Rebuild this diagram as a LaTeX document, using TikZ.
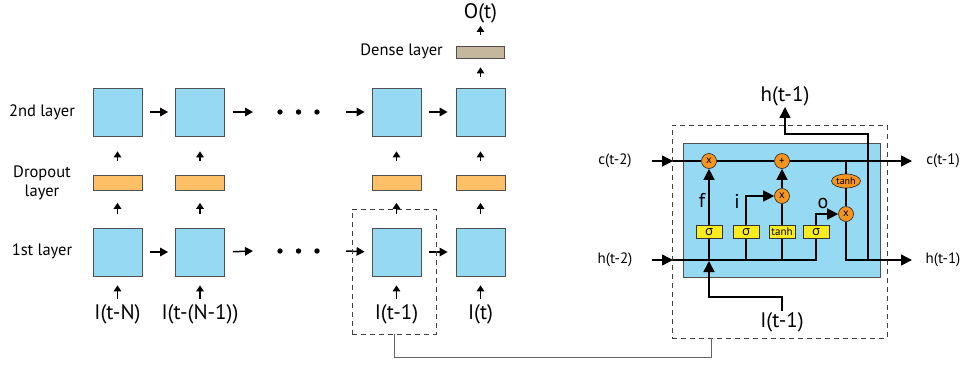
\documentclass[tikz,border=0pt]{standalone}
\usepackage{fontspec}
\setmainfont{PT Sans}
\newfontfamily\grk{Open Sans}
\usetikzlibrary{arrows.meta,shapes.geometric}
\definecolor{cellblue}{RGB}{149,217,243}
\definecolor{dropor}{RGB}{253,192,102}
\definecolor{densec}{RGB}{196,183,157}
\definecolor{gateyel}{RGB}{250,236,30}
\definecolor{opor}{RGB}{247,148,30}
\definecolor{edgegray}{RGB}{80,80,80}
\begin{document}
\begin{tikzpicture}[x=1pt,y=-1pt,
  cell/.style={draw=edgegray, fill=cellblue, line width=0.8pt, minimum width=49pt, minimum height=48pt, inner sep=0pt},
  drop/.style={draw=edgegray, fill=dropor, line width=0.8pt, minimum width=49pt, minimum height=15pt, inner sep=0pt},
  densebox/.style={draw=edgegray, fill=densec, line width=0.8pt, minimum width=48pt, minimum height=12pt, inner sep=0pt},
  lab/.style={font=\fontsize{16.5}{19}\selectfont, align=center, inner sep=0pt},
  inp/.style={font=\fontsize{21}{23}\selectfont, inner sep=1pt},
  sarr/.style={-{Triangle[length=6pt,width=7.5pt]}, line width=1.4pt},
  harr/.style={-{Triangle[length=8pt,width=8.5pt]}, line width=1.5pt},
  bigarr/.style={-{Triangle[length=11pt,width=11pt]}, line width=1.5pt},
  wire/.style={line width=1.5pt},
  opc/.style={circle, draw=black!80, fill=opor, line width=0.7pt, minimum size=15pt, inner sep=0pt, font=\fontsize{11}{12}\selectfont},
  gate/.style={draw=black!80, fill=gateyel, line width=0.7pt, minimum width=26pt, minimum height=13pt, inner sep=0pt},
  dbox/.style={draw=black!75, dashed, dash pattern=on 5pt off 4pt, line width=0.8pt, inner sep=0pt},
  small/.style={font=\fontsize{15}{17}\selectfont, inner sep=0pt},
  glab/.style={font=\fontsize{20}{22}\selectfont, inner sep=0pt}
]
\useasboundingbox (0,0) rectangle (965,365);

% ---------- left part ----------
\node[lab] (t2) at (42,112) {2nd layer};
\node[lab] (tdrop) at (42,183) {Dropout\\layer};
\node[lab] (t1) at (42,251) {1st layer};

\foreach \n/\x in {a/117.5,b/200,c/396.5,d/480.5}{
  \node[cell] (up\n) at (\x,112) {};
  \node[drop] (dr\n) at (\x,183) {};
  \node[cell] (lo\n) at (\x,252) {};
}
\node[inp] (ina) at (117.5,314) {I(t-N)};
\node[inp] (inb) at (200,314) {I(t-(N-1))};
\node[inp] (inc) at (396.5,314) {I(t-1)};
\node[inp] (ind) at (480.5,314) {I(t)};

\node[densebox] (dense) at (480.5,52) {};
\node[lab, anchor=east] (tdense) at (443,51) {Dense layer};
\node[inp] (out) at (480.5,13) {O(t)};

\foreach \n in {a,b,c,d}{
  \draw[sarr, shorten <=14pt, shorten >=15pt] (dr\n.north) -- (up\n.south);
  \draw[sarr, shorten <=14pt, shorten >=12pt] (lo\n.north) -- (dr\n.south);
  \draw[sarr, shorten <=4pt, shorten >=9pt] (in\n.north) -- (lo\n.south);
}
\draw[sarr, shorten <=11pt, shorten >=9pt] (upd.north) -- (dense.south);
\draw[sarr, shorten <=11pt, shorten >=2pt] (dense.north) -- (out.south);

% dots
\foreach \y/\r in {112/u,251/l}{
  \coordinate (dots\r1) at (280,\y);
  \coordinate (dots\r2) at (298.5,\y);
  \coordinate (dots\r3) at (317,\y);
  \fill (dots\r1) circle (2.7pt) (dots\r2) circle (2.7pt) (dots\r3) circle (2.7pt);
  \coordinate (pre\r) at (253,\y);
  \coordinate (post\r) at (346,\y);
}
\draw[harr, shorten <=8pt, shorten >=7pt] (upa.east) -- (upb.west);
\draw[harr, shorten <=8pt] (upb.east) -- (preu);
\draw[harr, shorten >=7pt] (postu) -- (upc.west);
\draw[harr, shorten <=8pt, shorten >=8pt] (upc.east) -- (upd.west);
\draw[harr, shorten <=8pt, shorten >=7pt] (loa.east) -- (lob.west);
\draw[harr, shorten <=8pt] (lob.east) -- (prel);
\draw[harr, shorten >=7pt] (postl) -- (loc.west);
\draw[harr, shorten <=8pt, shorten >=8pt] (loc.east) -- (lod.west);

\node[dbox, minimum width=84pt, minimum height=125pt] (dleft) at (394,271.5) {};

% ---------- right part ----------
\node[dbox, minimum width=215pt, minimum height=213pt] (dright) at (779.5,231.5) {};
\node[draw=edgegray, fill=cellblue, line width=0.8pt, minimum width=197pt, minimum height=134pt, inner sep=0pt] (cellbox) at (781.5,210) {};

\draw[gray!80!black, line width=0.8pt] (dleft.south) -- ++(0,23) -| ([xshift=40pt]dright.south west);

\coordinate (cs) at (652,161);
\coordinate (cm) at (673,161);
\coordinate (ce) at (912,161);
\coordinate (hs) at (652,260);
\coordinate (hm) at (673,260);
\coordinate (he) at (912,260);

\node[small] (lc2) at (615,161) {c(t-2)};
\node[small] (lc1) at (943,161) {c(t-1)};
\node[small] (lh2) at (615,260) {h(t-2)};
\node[small] (lh1) at (943,260) {h(t-1)};
\node[inp] (htop) at (785,96) {h(t-1)};
\node[inp] (iin) at (782,322) {I(t-1)};

\node[opc] (fx) at (709,161) {x};
\node[opc] (plus) at (782,161) {+};
\node[opc] (ix) at (782,196) {x};
\node[ellipse, draw=black!80, fill=opor, line width=0.7pt, minimum width=29pt, minimum height=14pt, inner sep=0pt, font=\fontsize{10}{11}\selectfont] (tc) at (846,181) {tanh};
\node[opc] (ox) at (846,214) {x};

\node[gate] (s1) at (709,232) {};
\node[gate] (s2) at (746,232) {};
\node[gate] (tb) at (782,232) {};
\node[gate] (s3) at (816,232) {};

% cell line
\draw[bigarr] (cs) -- (cm);
\draw[wire] (cm) -- (fx) -- (plus);
\draw[bigarr] (plus) -- (ce);
% hidden in
\draw[bigarr] (hs) -- (hm);
\draw[wire] (hm) -- (816,260) -- (s3.south);
\draw[wire] (s1.south) -- (s1.south |- hm);
\draw[wire] (s2.south) -- (s2.south |- hm);
\draw[wire] (tb.south) -- (tb.south |- hm);
% gates
\draw[bigarr] (s1.north) -- (fx.south);
\draw[bigarr] (s2.north) |- (ix.west);
\draw[wire] (tb.north) -- (ix.south);
\draw[bigarr] (ix.north) -- (plus.south);
\draw[bigarr] (s3.north) |- (ox.west);
% output
\draw[wire] (tc.north |- cs) -- (tc.north);
\draw[wire] (tc.south) -- (ox.north);
\draw[bigarr] (ox.south) |- (he);
\draw[bigarr] (868,260) -- (868,134) -| (htop.south);
% input
\draw[bigarr] (iin.north) -- ++(0,-14) -| (709,261);

% gate texts (on top)
\node[gate] at (s1) {\grk\fontsize{13}{14}\selectfont σ};
\node[gate] at (s2) {\grk\fontsize{13}{14}\selectfont σ};
\node[gate] at (tb) {\fontsize{11}{12}\selectfont tanh};
\node[gate] at (s3) {\grk\fontsize{13}{14}\selectfont σ};

\node[glab] (lf) at (702,200) {f};
\node[glab] (li) at (737,201) {i};
\node[glab] (lo) at (823,203) {o};
\end{tikzpicture}
\end{document}
